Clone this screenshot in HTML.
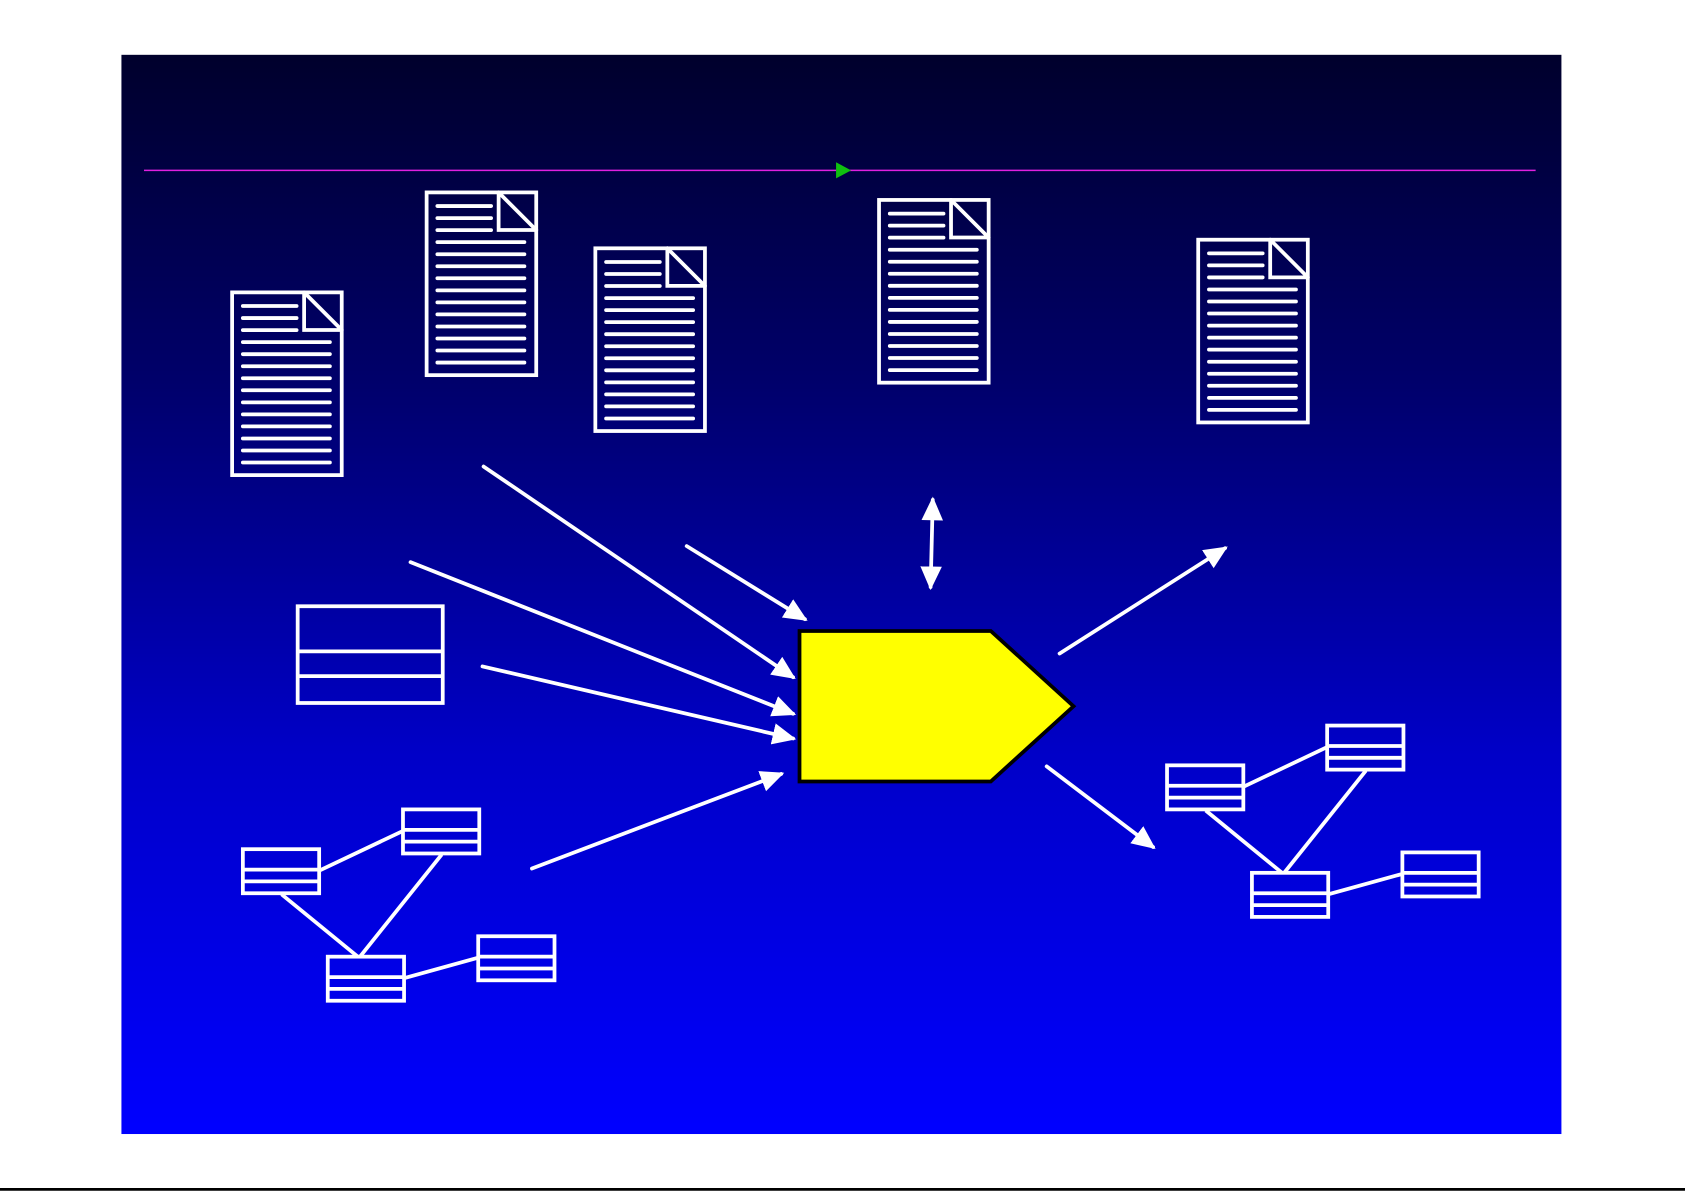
<!DOCTYPE html>
<html><head><meta charset="utf-8"><style>html,body{margin:0;padding:0;background:#fff}svg{display:block}</style></head>
<body>
<svg width="1685" height="1191" viewBox="0 0 1568 1108" preserveAspectRatio="none" xmlns="http://www.w3.org/2000/svg">
<defs>
<linearGradient id="bg" x1="0" y1="0" x2="0" y2="1">
<stop offset="0" stop-color="#00002c"/>
<stop offset="0.3" stop-color="#00006a"/>
<stop offset="0.65" stop-color="#0000c8"/>
<stop offset="1" stop-color="#0000ff"/>
</linearGradient>
<marker id="ah" markerUnits="userSpaceOnUse" markerWidth="26" markerHeight="22" refX="19" refY="10" orient="auto">
<path d="M0,0 L22,10 L0,20 Z" fill="#fff"/>
</marker>
<marker id="as" markerUnits="userSpaceOnUse" markerWidth="26" markerHeight="22" refX="3" refY="10" orient="auto">
<path d="M22,0 L0,10 L22,20 Z" fill="#fff"/>
</marker>
<symbol id="doc" overflow="visible">
<g stroke="#fff" fill="none" stroke-width="3.5" stroke-linecap="round">
<rect x="0" y="0" width="102" height="170"/>
<path d="M67,0 V35 H102 M67,0 L102,35"/>
<path d="M10,12.7 H60 M10,23.9 H60 M10,35.1 H60"/>
<path d="M10,46.3 H91 M10,57.5 H91 M10,68.7 H91 M10,79.9 H91 M10,91.1 H91 M10,102.3 H91 M10,113.5 H91 M10,124.7 H91 M10,135.9 H91 M10,147.1 H91 M10,158.3 H91"/>
</g>
</symbol>
<symbol id="tbl" overflow="visible">
<g stroke="#fff" fill="none" stroke-width="3.5">
<rect x="0" y="0" width="71" height="41"/>
<path d="M0,19 H71 M0,30 H71"/>
</g>
</symbol>
</defs>
<rect x="113" y="51" width="1340" height="1004" fill="url(#bg)"/>
<line x1="0" y1="1106.5" x2="1568" y2="1106.5" stroke="#000" stroke-width="2.5"/>
<line x1="134" y1="158.5" x2="1429" y2="158.5" stroke="#e020e0" stroke-width="1.5"/>
<path d="M778,151 L792,158.5 L778,166 Z" fill="#10c010"/>

<use href="#doc" x="216" y="272"/>
<use href="#doc" x="397" y="179"/>
<use href="#doc" x="554" y="231"/>
<use href="#doc" x="818" y="186"/>
<use href="#doc" x="1115" y="223"/>

<g stroke="#fff" fill="none" stroke-width="3.5">
<rect x="277" y="564" width="135" height="90"/>
<path d="M277,606 H412 M277,629 H412"/>
</g>

<g stroke="#fff" stroke-width="3.5" fill="none">
<path d="M297,810 L375,773 M262,832 L333,890 M411,795 L335,890 M376,910 L445,891"/>
<path d="M1157,732 L1235,695 M1122,754 L1193,812 M1271,717 L1195,812 M1236,832 L1305,813"/>
</g>
<use href="#tbl" x="226" y="790"/>
<use href="#tbl" x="375" y="753"/>
<use href="#tbl" x="305" y="890"/>
<use href="#tbl" x="445" y="871"/>
<use href="#tbl" x="1086" y="712"/>
<use href="#tbl" x="1235" y="675"/>
<use href="#tbl" x="1165" y="812"/>
<use href="#tbl" x="1305" y="793"/>

<path d="M744,587 L922,587 L999,657 L922,727 L744,727 Z" fill="#ffff00" stroke="#000" stroke-width="3.5"/>

<g stroke="#fff" stroke-width="3.5" stroke-linecap="round" fill="none">
<line x1="450" y1="434" x2="738" y2="630" marker-end="url(#ah)"/>
<line x1="382" y1="523" x2="738" y2="664" marker-end="url(#ah)"/>
<line x1="449" y1="620" x2="738" y2="687" marker-end="url(#ah)"/>
<line x1="495" y1="808" x2="727" y2="720" marker-end="url(#ah)"/>
<line x1="639" y1="508" x2="749" y2="576" marker-end="url(#ah)"/>
<line x1="868" y1="465" x2="866" y2="546" marker-start="url(#as)" marker-end="url(#ah)"/>
<line x1="986" y1="608" x2="1140" y2="510" marker-end="url(#ah)"/>
<line x1="974" y1="713" x2="1073" y2="788" marker-end="url(#ah)"/>
</g>
</svg>
</body></html>
